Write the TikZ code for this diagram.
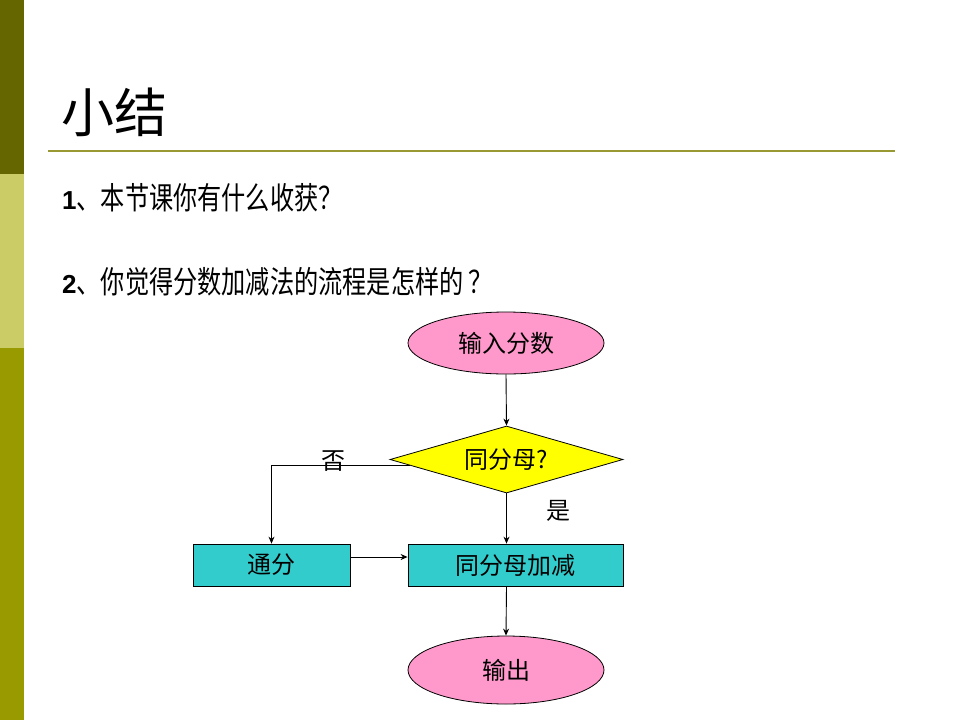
\documentclass[tikz,border=0pt]{standalone}
\usepackage{fontspec}
\setmainfont{Liberation Sans}
\newfontfamily\cjk{Noto Sans CJK SC}
\newfontfamily\cjkc[FakeStretch=0.78]{Noto Sans CJK SC}
\usetikzlibrary{shapes.geometric,arrows.meta}
\definecolor{barA}{HTML}{666600}
\definecolor{barB}{HTML}{CCCC66}
\definecolor{barC}{HTML}{999900}
\definecolor{rulecol}{HTML}{999933}
\definecolor{pinkfill}{HTML}{FF99CC}
\definecolor{yellowfill}{HTML}{FFFF00}
\definecolor{tealfill}{HTML}{33CCCC}
\begin{document}
\begin{tikzpicture}[x=1pt,y=-1pt,
  oval/.style={ellipse,draw=black,line width=0.8pt,fill=pinkfill,minimum width=196pt,minimum height=62pt,inner sep=0pt,font=\cjk\fontsize{24}{26}\selectfont},
  decide/.style={diamond,draw=black,line width=0.8pt,fill=yellowfill,aspect=3.5,minimum width=233pt,minimum height=67pt,inner sep=0pt,font=\cjk\fontsize{24}{26}\selectfont},
  procbox/.style={rectangle,draw=black,line width=0.8pt,fill=tealfill,minimum height=42pt,inner sep=0pt,font=\cjk\fontsize{24}{26}\selectfont},
  arr/.style={draw=black,line width=0.9pt,-{Stealth[length=7pt,width=6pt]}},
  lbl/.style={font=\cjk\fontsize{24}{26}\selectfont,inner sep=0pt},
  heading/.style={anchor=west,inner sep=0pt,font=\cjkc\fontsize{31}{34}\selectfont}]
\useasboundingbox (0,0) rectangle (960,720);
\fill[white] (0,0) rectangle (960,720);
% left bar
\fill[barA] (0,0) rectangle (24,174);
\fill[barB] (0,174) rectangle (24,348);
\fill[barC] (0,348) rectangle (24,720);
% title
\node[anchor=west,inner sep=0pt,font=\cjk\fontsize{53}{56}\selectfont] (title) at (61,112) {小结};
\draw[rulecol,line width=2pt] (48,151) -- (895,151);
\node[heading] (q1) at (62,198) {{\fontspec{Liberation Sans}\fontsize{26}{30}\selectfont\bfseries 1}、本节课你有什么收获？};
\node[heading] (q2) at (62,282) {{\fontspec{Liberation Sans}\fontsize{26}{30}\selectfont\bfseries 2}、你觉得分数加减法的流程是怎样的 ？};
% flowchart
\node[oval] (in) at (506,343) {输入分数};
\node[decide] (dec) at (506.5,459.5) {同分母?};
\node[procbox,minimum width=157pt] (tf) at (271.5,565) {通分};
\node[procbox,minimum width=215pt] (jj) at (515.5,565) {同分母加减};
\node[oval,minimum height=68pt] (out) at (506,670) {输出};
\coordinate (dl) at (410,465);
\draw[arr] (in.south) -- (dec.north);
\draw[arr] (dec.south) -- (dec.south |- jj.north);
\draw[arr] (dl) -| (tf.north);
\draw[arr] ([yshift=8pt]tf.east) -- ([yshift=8pt]jj.west);
\draw[arr] (jj.south -| dec.south) -- (out.north);
\node[lbl] (no) at (333,461) {否};
\node[lbl] (yes) at (558,511) {是};
\end{tikzpicture}
\end{document}
